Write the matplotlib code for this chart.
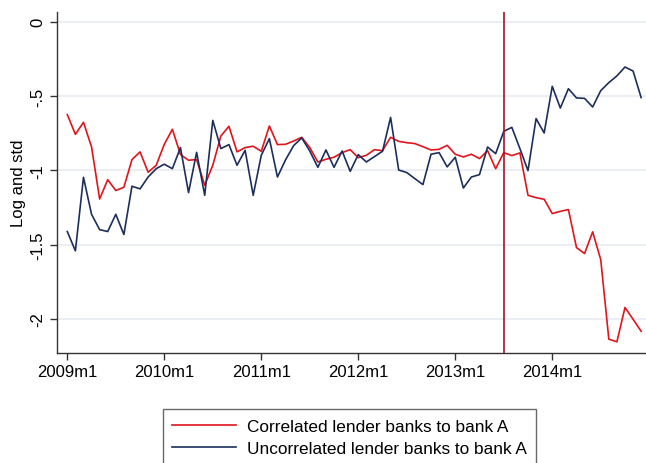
import numpy as np
import matplotlib.pyplot as plt

plt.rcParams['font.family'] = ['Liberation Sans', 'DejaVu Sans']

# monthly observations, 2009m1 .. 2014m12 (month index 0..71)
correlated = [
    -0.625, -0.758, -0.677, -0.843, -1.193, -1.063, -1.136, -1.114, -0.928, -0.876, -1.013, -0.966,
    -0.825, -0.724, -0.894, -0.932, -0.928, -1.101, -0.966, -0.769, -0.704, -0.876, -0.847, -0.838,
    -0.872, -0.702, -0.827, -0.825, -0.803, -0.778, -0.847, -0.944, -0.926, -0.912, -0.881, -0.861,
    -0.915, -0.899, -0.861, -0.868, -0.778, -0.805, -0.814, -0.820, -0.841, -0.863, -0.859, -0.832,
    -0.892, -0.910, -0.892, -0.921, -0.868, -0.989, -0.881, -0.901, -0.883, -1.168, -1.184, -1.195,
    -1.291, -1.276, -1.264, -1.520, -1.560, -1.414, -1.601, -2.136, -2.154, -1.923, -2.002, -2.083,
]
uncorrelated = [
    -1.412, -1.542, -1.047, -1.296, -1.399, -1.412, -1.296, -1.432, -1.107, -1.125, -1.045, -0.989,
    -0.959, -0.989, -0.847, -1.150, -0.879, -1.168, -0.664, -0.854, -0.827, -0.966, -0.865, -1.168,
    -0.899, -0.787, -1.045, -0.930, -0.834, -0.782, -0.870, -0.980, -0.863, -0.980, -0.870, -1.007,
    -0.894, -0.944, -0.908, -0.872, -0.644, -0.998, -1.015, -1.056, -1.096, -0.892, -0.881, -0.977,
    -0.912, -1.119, -1.045, -1.029, -0.843, -0.888, -0.738, -0.711, -0.854, -1.002, -0.652, -0.749,
    -0.435, -0.581, -0.451, -0.513, -0.516, -0.574, -0.464, -0.410, -0.365, -0.305, -0.332, -0.511,
]
months = np.arange(len(correlated))
tick_months = [0, 12, 24, 36, 48, 60]
tick_labels = ['2009m1', '2010m1', '2011m1', '2012m1', '2013m1', '2014m1']
y_ticks = [0, -0.5, -1, -1.5, -2]
y_labels = ['0', '-.5', '-1', '-1.5', '-2']
event_month = 54  # 2013m7

fig = plt.figure(figsize=(6.46, 4.64), dpi=100)
ax = fig.add_axes([0.0878, 0.2371, 0.9122, 0.7355])

for y in y_ticks:
    ax.axhline(y, color='#e6ebf0', lw=1.1, zorder=0)

ax.plot(months, correlated, color='#e0151b', lw=1.2, label='Correlated lender banks to bank A')
ax.plot(months, uncorrelated, color='#1c2f5c', lw=1.2, label='Uncorrelated lender banks to bank A')
ax.axvline(event_month, color='#a8102a', lw=1.2)

ax.set_xlim(-1.31, 71.6)
ax.set_ylim(-2.229, 0.067)
ax.set_xticks(tick_months)
ax.set_xticklabels(tick_labels, fontsize=12)
ax.set_yticks(y_ticks)
ax.set_yticklabels(y_labels, fontsize=12, rotation=90, va='center')
ax.set_ylabel('Log and std', fontsize=12, labelpad=3)
ax.tick_params(direction='out', length=5, width=1, colors='#333333', labelcolor='black', pad=3)

for side in ['top', 'right']:
    ax.spines[side].set_visible(False)
for side in ['left', 'bottom']:
    ax.spines[side].set_color('#333333')
    ax.spines[side].set_linewidth(1)

leg = fig.legend(loc='upper left', bbox_to_anchor=(0.252, 0.116), fontsize=12.4,
                 fancybox=False, handlelength=3.7, handletextpad=0.62,
                 labelspacing=0.42, borderpad=0.55, borderaxespad=0)
leg.get_frame().set_edgecolor('#444444')
leg.get_frame().set_linewidth(1)

fig.savefig('out.png', dpi=100)
